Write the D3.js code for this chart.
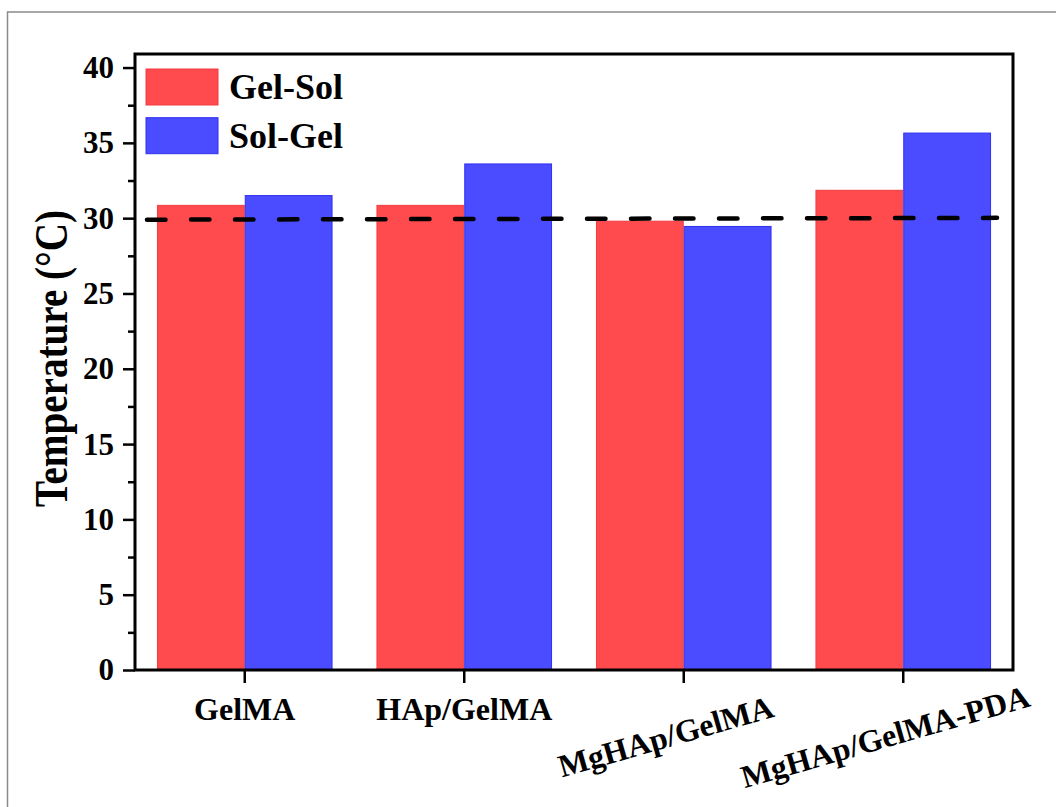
<!DOCTYPE html>
<html>
<head>
<meta charset="utf-8">
<script src="https://cdn.jsdelivr.net/npm/d3@7"></script>
<style>
  html, body { margin: 0; padding: 0; background: #fff; }
  svg { display: block; }
  text { font-family: "Liberation Serif", "Times New Roman", serif; font-weight: bold; fill: #000; }
</style>
</head>
<body>
<svg id="chart" width="1056" height="807"></svg>
<script>
// Transition temperatures of the hydrogels (°C)
const categories = ["GelMA", "HAp/GelMA", "MgHAp/GelMA", "MgHAp/GelMA-PDA"];
const seriesNames = ["Gel-Sol", "Sol-Gel"];
const gelSol = [30.85, 30.85, 29.8, 31.85];
const solGel = [31.5, 33.6, 29.45, 35.65];
const yTicks = [0, 5, 10, 15, 20, 25, 30, 35, 40];
const yMinorTicks = [2.5, 7.5, 12.5, 17.5, 22.5, 27.5, 32.5, 37.5];
const bodyTemp = [29.9, 30.02]; // dashed reference line, left and right ends
const rotatedLabels = ["MgHAp/GelMA", "MgHAp/GelMA-PDA"];

const colors = { "Gel-Sol": "#ff4b4e", "Sol-Gel": "#4b4bff" };
const strokes = { "Gel-Sol": "#f03c40", "Sol-Gel": "#3030f0" };

const svg = d3.select("#chart");

// outer panel border
svg.append("rect")
  .attr("x", 7.5).attr("y", 12)
  .attr("width", 1200).attr("height", 900)
  .attr("fill", "none").attr("stroke", "#8a8a8a").attr("stroke-width", 1.5);

const plot = { left: 135, right: 1013, top: 54, bottom: 670 };

const x0 = d3.scaleBand()
  .domain(categories)
  .range([plot.left, plot.right])
  .paddingInner(0.2)
  .paddingOuter(0.1);

const x1 = d3.scaleBand()
  .domain(seriesNames)
  .range([0, x0.bandwidth()])
  .padding(0);

const y = d3.scaleLinear()
  .domain([0, 40.9])
  .range([plot.bottom, plot.top]);

const rows = categories.map((c, i) => ({
  category: c,
  values: [
    { key: "Gel-Sol", value: gelSol[i] },
    { key: "Sol-Gel", value: solGel[i] }
  ]
}));

// bars
const groups = svg.append("g").selectAll("g")
  .data(rows)
  .join("g")
  .attr("transform", d => `translate(${x0(d.category)},0)`);

groups.selectAll("rect")
  .data(d => d.values)
  .join("rect")
  .attr("x", d => x1(d.key) + 0.5)
  .attr("y", d => y(d.value))
  .attr("width", x1.bandwidth() - 1)
  .attr("height", d => y(0) - y(d.value))
  .attr("fill", d => colors[d.key])
  .attr("stroke", d => strokes[d.key])
  .attr("stroke-width", 1);

// dashed reference line
svg.append("line")
  .attr("x1", plot.left + 12).attr("x2", plot.right - 16)
  .attr("y1", y(bodyTemp[0])).attr("y2", y(bodyTemp[1]))
  .attr("stroke", "#000")
  .attr("stroke-width", 4.5)
  .attr("stroke-linecap", "round")
  .attr("stroke-dasharray", "18.5 25.5");

// frame
svg.append("path")
  .attr("d", `M${plot.left},${plot.top}H${plot.right}V${plot.bottom}H${plot.left}Z`)
  .attr("fill", "none").attr("stroke", "#000").attr("stroke-width", 3);

// y axis: major ticks with labels
const yAxis = d3.axisLeft(y)
  .tickValues(yTicks)
  .tickSize(12)
  .tickPadding(9)
  .tickFormat(d3.format("d"));

const gy = svg.append("g")
  .attr("transform", `translate(${plot.left},0)`)
  .call(yAxis);
gy.select(".domain").remove();
gy.selectAll(".tick line").attr("stroke", "#000").attr("stroke-width", 2.5);
gy.selectAll(".tick text")
  .attr("font-size", 31)
  .attr("font-family", '"Liberation Serif", "Times New Roman", serif')
  .attr("font-weight", "bold")
  .attr("fill", "#000");

// y axis: minor ticks
const gyMinor = svg.append("g")
  .attr("transform", `translate(${plot.left},0)`)
  .call(d3.axisLeft(y).tickValues(yMinorTicks).tickSize(7).tickFormat(""));
gyMinor.select(".domain").remove();
gyMinor.selectAll(".tick line").attr("stroke", "#000").attr("stroke-width", 2.5);

// x axis ticks at group centres
const xCenter = d => x0(d) + x0.bandwidth() / 2;
const gx = svg.append("g")
  .attr("transform", `translate(0,${plot.bottom})`)
  .call(d3.axisBottom(x0).tickSize(13).tickFormat(""));
gx.select(".domain").remove();
gx.selectAll(".tick line").attr("stroke", "#000").attr("stroke-width", 2.5);

// x labels
svg.append("g").selectAll("text")
  .data(categories)
  .join("text")
  .attr("font-size", 32)
  .attr("text-anchor", "middle")
  .attr("transform", d => rotatedLabels.includes(d)
    ? `translate(${xCenter(d) - 15},747) rotate(-16)`
    : `translate(${xCenter(d)},720)`)
  .text(d => d);

// y axis title
svg.append("text")
  .attr("transform", `translate(67,${(210 + 507) / 2}) rotate(-90)`)
  .attr("text-anchor", "middle")
  .attr("font-size", 46)
  .attr("textLength", 297)
  .attr("lengthAdjust", "spacingAndGlyphs")
  .text("Temperature (°C)");

// legend
const legend = svg.append("g").attr("transform", "translate(146,69)");
const legendItems = legend.selectAll("g")
  .data(seriesNames)
  .join("g")
  .attr("transform", (d, i) => `translate(0,${i * 48.7})`);
legendItems.append("rect")
  .attr("x", 0).attr("y", 0)
  .attr("width", 72).attr("height", 36)
  .attr("fill", d => colors[d])
  .attr("stroke", d => strokes[d])
  .attr("stroke-width", 1);
legendItems.append("text")
  .attr("x", 83).attr("y", 30)
  .attr("font-size", 36)
  .text(d => d);
</script>
</body>
</html>
